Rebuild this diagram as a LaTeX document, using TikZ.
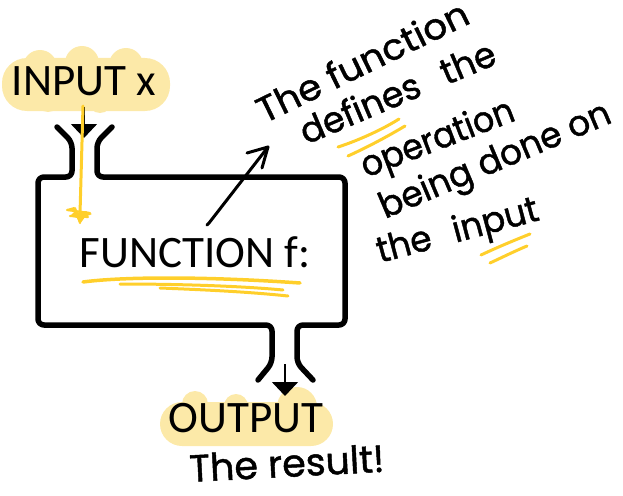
\documentclass[tikz,border=0pt]{standalone}
\usepackage{fontspec}
\setmainfont{Carlito}
\newfontfamily\handfont[FakeBold=1.2]{Poppins}
\usetikzlibrary{arrows.meta}
\definecolor{hl}{HTML}{FCE9A8}
\definecolor{gold}{HTML}{FFCF2B}
\tikzset{
  wall/.style={line width=5.5pt, line cap=round, line join=round, rounded corners=6pt},
  lbl/.style={font=\fontsize{45}{54}\selectfont, inner sep=0pt, anchor=base},
  hand/.style={font=\handfont\fontsize{36}{42}\selectfont, inner sep=0pt, anchor=base west},
  goldline/.style={draw=gold, line width=3.5pt, line cap=round, line join=round},
  blackarrow/.style={line width=1.6pt, -{Triangle[width=26pt,length=14pt]}},
  pen/.style={line width=3pt, line cap=round, line join=round}
}
\begin{document}
\begin{tikzpicture}[x=1pt,y=-1pt]
\useasboundingbox (0,0) rectangle (623,495);
% highlight blobs
\fill[hl, rounded corners=25pt] (2,58) rectangle (170,111);
\fill[hl] (40,67) circle (17) (82,63) circle (17) (126,65) circle (17) (100,101) circle (12) (48,100) circle (12);
\fill[hl, rounded corners=22pt] (160,402) rectangle (333,446);
\fill[hl] (195,404) circle (13) (236,406) circle (12) (297,407) circle (20) (300,430) circle (16);
% text
\node[lbl] (input) at (84,95) {INPUT x};
\node[lbl] (func) at (195,267) {FUNCTION f:};
\node[lbl] (output) at (246,432) {OUTPUT};
% machine walls
\draw[wall] (57,127) -- (72,142) -- (72,177) -- (38,177) -- (38,325) -- (272,325) -- (272,363) -- (258,380);
\draw[wall] (112,127) -- (97,142) -- (97,177) -- (345,177) -- (345,325) -- (297,325) -- (297,363) -- (313,380);
% black arrows
\coordinate (inA) at (84,107);
\coordinate (inB) at (84,138);
\draw[blackarrow] (inA) -- (inB);
\coordinate (outA) at (285,364);
\coordinate (outB) at (285,396);
\draw[blackarrow] (outA) -- (outB);
% yellow input arrow
\coordinate (yA) at (83,106);
\coordinate (yB) at (80,214);
\draw[goldline, line width=3pt] (yA) -- (yB);
\fill[gold] (67,209) -- (74,212) -- (70,216) -- (77,218) -- (80,224) -- (85,217) -- (92,214) -- (86,211) -- (79,213) -- (74,207) -- cycle;
\draw[goldline, line width=2.2pt] (67,210) -- (90,213) (70,216) -- (88,217) (75,208) -- (80,223);
% function underline
\draw[goldline] (83,282) .. controls (120,277) and (200,276) .. (300,283);
\draw[goldline, line width=3pt] (120,284) .. controls (180,284) and (240,286) .. (283,290);
\draw[goldline, line width=3pt] (160,288) .. controls (210,290) and (250,292) .. (288,296);
% annotation arrow
\coordinate (nA) at (207,225);
\coordinate (nB) at (268,147);
\draw[pen] (nA) -- ++(2,-2) -- (nB);
\draw[pen] (247,153) -- (nB) -- (262,168);
% handwritten note
\node[hand, rotate=26, xscale=1.04] (l1) at (264,124) {The function};
\node[hand, rotate=23, xscale=0.97] (l2) at (306,145) {defines\hspace{0.45em} the};
\node[hand, rotate=21, xscale=0.92] (l3) at (366,178) {operation};
\node[hand, rotate=23, xscale=0.95] (l4) at (385,219) {being done on};
\node[hand, rotate=15, xscale=0.95] (l5) at (380,263) {the\hspace{0.4em} input};
% note underlines
\draw[goldline, line width=3pt] (338,147) .. controls (360,140) and (385,128) .. (399,119);
\draw[goldline, line width=3pt] (348,156) .. controls (370,146) and (390,135) .. (405,126);
\draw[goldline, line width=3pt] (481,255) .. controls (498,247) and (515,240) .. (530,234);
\draw[goldline, line width=3pt] (490,263) .. controls (503,257) and (515,251) .. (527,246);
% result
\node[hand, rotate=3, font=\handfont\fontsize{38}{44}\selectfont] (result) at (190,482) {The result!};
\end{tikzpicture}
\end{document}
